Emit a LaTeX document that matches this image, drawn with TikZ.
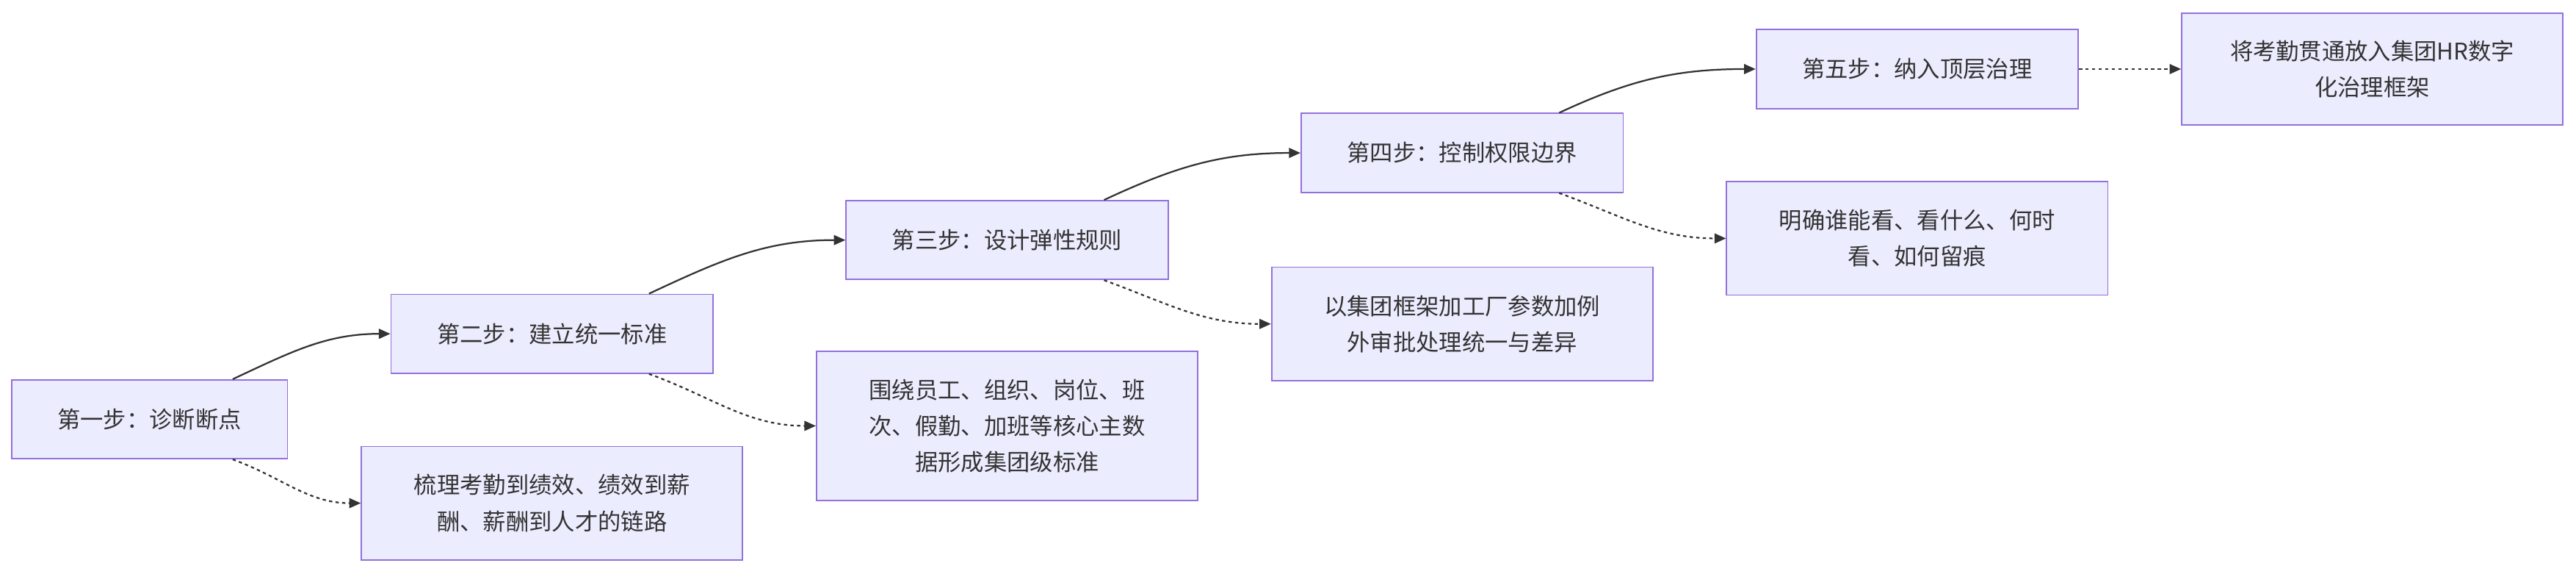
\documentclass[tikz,border=0pt]{standalone}
\usepackage{fontspec}
\setmainfont{Noto Sans CJK SC}
\usetikzlibrary{calc,arrows.meta}
\definecolor{bx}{HTML}{ECECFF}
\definecolor{bd}{HTML}{9370DB}
\definecolor{tx}{HTML}{333333}
\begin{document}
\begin{tikzpicture}[x=1pt,y=-1pt,
  box/.style={draw=bd,fill=bx,line width=0.8pt,text=tx,align=center,font=\fontsize{14pt}{22pt}\selectfont,inner sep=0pt},
  edge/.style={draw=tx,line width=1pt,-{Triangle[length=7pt,width=6pt]}},
  dot/.style={edge,dash pattern=on 2pt off 2pt}]
\useasboundingbox (0,0) rectangle (1568,349);
\node[box,minimum width=168,minimum height=48] (s1) at (91,255) {第一步：诊断断点};
\node[box,minimum width=232,minimum height=69] (n1) at (336,306) {梳理考勤到绩效、绩效到薪\\酬、薪酬到人才的链路};
\node[box,minimum width=196,minimum height=48] (s2) at (336,203) {第二步：建立统一标准};
\node[box,minimum width=232,minimum height=91] (n2) at (613,259) {围绕员工、组织、岗位、班\\次、假勤、加班等核心主数\\据形成集团级标准};
\node[box,minimum width=196,minimum height=48] (s3) at (613,146) {第三步：设计弹性规则};
\node[box,minimum width=232,minimum height=69] (n3) at (890,197) {以集团框架加工厂参数加例\\外审批处理统一与差异};
\node[box,minimum width=196,minimum height=48] (s4) at (890,93) {第四步：控制权限边界};
\node[box,minimum width=232,minimum height=69] (n4) at (1167,145) {明确谁能看、看什么、何时\\看、如何留痕};
\node[box,minimum width=196,minimum height=48] (s5) at (1167,42) {第五步：纳入顶层治理};
\node[box,minimum width=232,minimum height=68] (n5) at (1444,42) {将考勤贯通放入集团HR数字\\化治理框架};
\foreach \a/\b/\n in {s1/s2/n1,s2/s3/n2,s3/s4/n3,s4/s5/n4}{
  \draw[edge] ($(\a.north west)!0.8!(\a.north east)$) to[out=25,in=180] (\b.west);
  \draw[dot] ($(\a.south west)!0.8!(\a.south east)$) to[out=-20,in=180] (\n.west);
}
\draw[dot] (s5.east) -- (n5.west);
\end{tikzpicture}
\end{document}
